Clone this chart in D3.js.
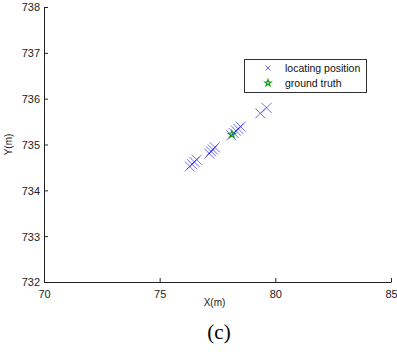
<!DOCTYPE html>
<html>
<head>
<meta charset="utf-8">
<script src="https://cdn.jsdelivr.net/npm/d3@7"></script>
<style>
  html, body { margin: 0; padding: 0; background: #fff; }
  svg { display: block; }
</style>
</head>
<body>
<svg id="chart" width="397" height="356"></svg>
<script>
// Estimated positions (metres)
const locX = [76.30, 76.40, 76.50, 76.60, 77.15, 77.22, 77.30, 77.38, 78.10, 78.20, 78.30, 78.40, 78.50, 79.35, 79.62];
const locY = [734.52, 734.57, 734.62, 734.67, 734.80, 734.85, 734.89, 734.94, 735.20, 735.25, 735.30, 735.34, 735.39, 735.68, 735.80];
const truthX = [78.12];
const truthY = [735.22];

const xTicks = [70, 75, 80, 85];
const yTicks = [732, 733, 734, 735, 736, 737, 738];
const legendLabels = ["locating position", "ground truth"];

const svg = d3.select("#chart");
const plotLeft = 44, plotRight = 391, plotTop = 7, plotBottom = 282;

const x = d3.scaleLinear().domain([70, 85]).range([plotLeft, plotRight]);
const y = d3.scaleLinear().domain([732, 738]).range([plotBottom, plotTop]);

const font = "Liberation Sans, Arial, sans-serif";
const axisColor = "#222";
const intFmt = d3.format("d");

// bottom axis, ticks pointing inward
const xAxis = svg.append("g")
  .attr("transform", `translate(0,${plotBottom})`)
  .call(d3.axisBottom(x).tickValues(xTicks).tickFormat(intFmt)
    .tickSize(-4).tickPadding(8).tickSizeOuter(0));
// left axis, ticks pointing inward
const yAxis = svg.append("g")
  .attr("transform", `translate(${plotLeft},0)`)
  .call(d3.axisLeft(y).tickValues(yTicks).tickFormat(intFmt)
    .tickSize(-4).tickPadding(4).tickSizeOuter(0));

[xAxis, yAxis].forEach(g => {
  g.select(".domain").attr("stroke", axisColor).attr("stroke-width", 1);
  g.selectAll(".tick line").attr("stroke", axisColor);
  g.selectAll("text").attr("fill", "#222").style("font-family", font).style("font-size", "11px");
});
yAxis.selectAll(".tick text").attr("dy", "0.36em");

// axis titles
svg.append("text").attr("x", (plotLeft + plotRight) / 2 - 3).attr("y", 306)
  .attr("text-anchor", "middle").style("font-family", font).style("font-size", "10px")
  .attr("fill", "#222").text("X(m)");
svg.append("text").attr("transform", `translate(12,${(plotTop + plotBottom) / 2}) rotate(-90)`)
  .attr("text-anchor", "middle").style("font-family", font).style("font-size", "10px")
  .attr("fill", "#222").text("Y(m)");

// caption
svg.append("text").attr("x", 219).attr("y", 339)
  .attr("text-anchor", "middle").style("font-family", "Liberation Serif, Times New Roman, serif")
  .style("font-size", "21px").attr("fill", "#000").text("(c)");

// markers
const crossPath = s => `M${-s},${-s}L${s},${s}M${-s},${s}L${s},${-s}`;
const star = d3.symbol().type(d3.symbolStar).size(16);

const locData = locX.map((v, i) => [v, locY[i]]);
svg.append("g").selectAll("path").data(locData).join("path")
  .attr("transform", d => `translate(${x(d[0])},${y(d[1])})`)
  .attr("d", crossPath(5))
  .attr("stroke", "#2020ff").attr("stroke-opacity", 0.65)
  .attr("stroke-width", 1).attr("fill", "none");

const truthData = truthX.map((v, i) => [v, truthY[i]]);
svg.append("g").selectAll("path").data(truthData).join("path")
  .attr("transform", d => `translate(${x(d[0])},${y(d[1])})`)
  .attr("d", star())
  .attr("stroke", "#119911").attr("stroke-width", 1.2).attr("fill", "none");

// legend
const lg = svg.append("g");
lg.append("rect").attr("x", 244.5).attr("y", 59.5).attr("width", 122).attr("height", 33)
  .attr("fill", "#fff").attr("stroke", "#333").attr("stroke-width", 1);
lg.append("path").attr("transform", "translate(268,68)").attr("d", crossPath(2.5))
  .attr("stroke", "#2020ff").attr("stroke-opacity", 0.7).attr("fill", "none");
lg.append("path").attr("transform", "translate(268,83)")
  .attr("d", d3.symbol().type(d3.symbolStar).size(12)())
  .attr("stroke", "#119911").attr("stroke-width", 1.2).attr("fill", "none");
legendLabels.forEach((t, i) => {
  lg.append("text").attr("x", 285).attr("y", 72 + i * 15)
    .style("font-family", font).style("font-size", "10.5px").attr("fill", "#111").text(t);
});
</script>
</body>
</html>
